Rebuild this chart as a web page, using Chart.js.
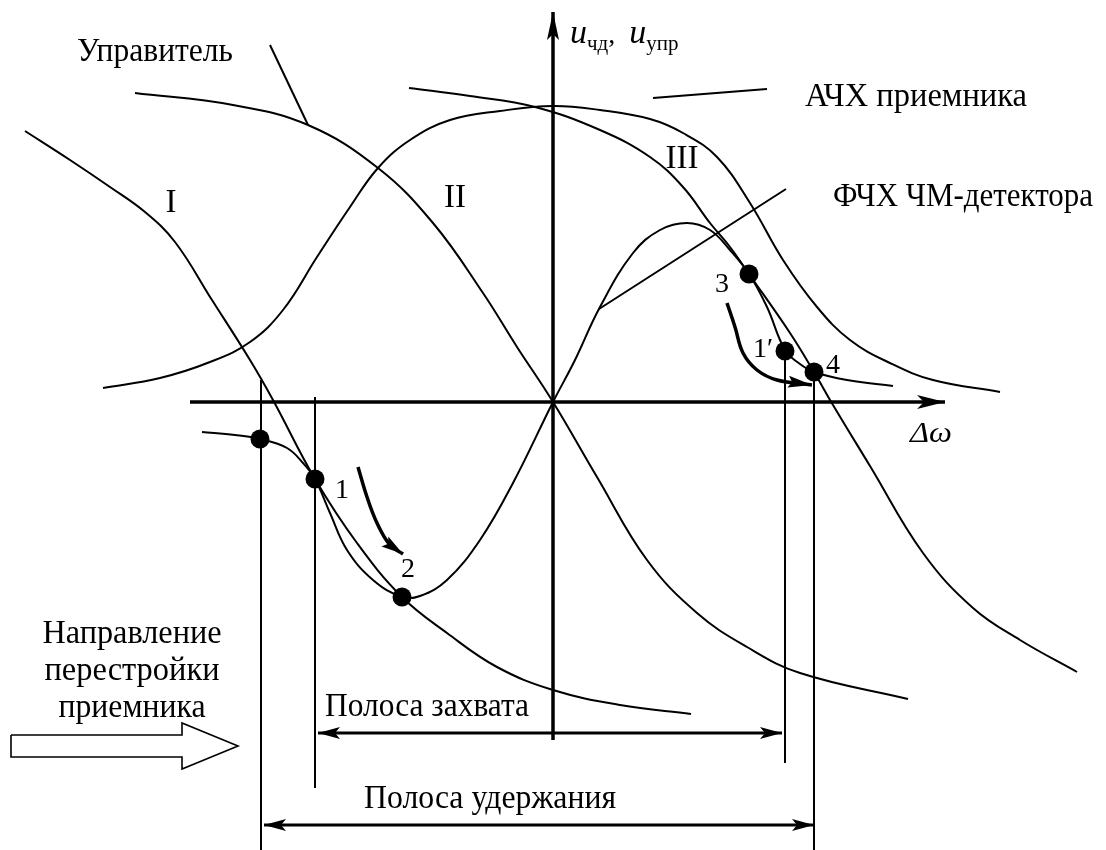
<!DOCTYPE html>
<html>
<head>
<meta charset="utf-8">
<script src="https://cdn.jsdelivr.net/npm/chart.js@4/dist/chart.umd.min.js"></script>
<style>
  html, body { margin: 0; padding: 0; background: #fff; overflow: hidden; }
  canvas { display: block; }
</style>
</head>
<body>
<canvas id="c" width="1106" height="850"></canvas>
<script>
// Frequency detuning Δω (horizontal) and voltage u (vertical), arbitrary units
const xRange = [-5.53, 5.53];
const yRange = [-4.48, 4.02];

// Tuner control characteristic at three receiver positions: I, II, III
const controlI = [
  [-5.28, 2.71], [-4.83, 2.42], [-4.43, 2.15], [-4.08, 1.90], [-3.78, 1.60],
  [-3.41, 1.02], [-3.03, 0.42], [-2.80, 0.02], [-2.38, -0.77], [-1.96, -1.41],
  [-1.51, -1.95], [-1.06, -2.31], [-0.56, -2.65], [0.00, -2.88], [0.67, -3.03],
  [1.38, -3.12]
];
const controlII = [
  [-4.18, 3.09], [-3.20, 2.97], [-2.45, 2.77], [-1.75, 2.34], [-1.20, 1.79],
  [-0.70, 1.09], [-0.36, 0.55], [0.00, 0.00], [0.44, -0.75], [0.94, -1.58],
  [1.44, -2.11], [1.94, -2.45], [2.47, -2.71], [3.55, -2.97]
];
const controlIII = [
  [-1.44, 3.14], [-0.83, 3.06], [-0.18, 2.95], [0.47, 2.72], [0.97, 2.45],
  [1.30, 2.15], [1.57, 1.79], [1.77, 1.55], [1.96, 1.28], [2.37, 0.69],
  [2.61, 0.30], [2.80, -0.03], [3.17, -0.64], [3.70, -1.51], [4.20, -2.06],
  [4.67, -2.38], [5.24, -2.70]
];

// Receiver amplitude-frequency response (АЧХ)
const receiverResponse = [
  [-4.50, 0.14], [-3.93, 0.24], [-3.43, 0.40], [-3.03, 0.60], [-2.70, 0.92],
  [-2.36, 1.45], [-2.03, 1.95], [-1.75, 2.34], [-1.43, 2.62], [-1.03, 2.82],
  [-0.53, 2.91], [0.00, 2.96], [0.47, 2.92], [0.97, 2.83], [1.30, 2.69],
  [1.64, 2.45], [1.97, 1.99], [2.30, 1.42], [2.64, 0.95], [2.97, 0.62],
  [3.37, 0.39], [3.80, 0.22], [4.47, 0.10]
];

// FM detector characteristic (ФЧХ ЧМ-детектора)
const detectorResponse = [
  [-3.51, -0.30], [-3.18, -0.33], [-2.93, -0.37], [-2.66, -0.46], [-2.50, -0.61],
  [-2.38, -0.77], [-2.23, -1.11], [-2.06, -1.48], [-1.80, -1.78], [-1.51, -1.95],
  [-1.33, -1.94], [-1.06, -1.78], [-0.73, -1.38], [-0.40, -0.81], [0.00, 0.00],
  [0.22, 0.42], [0.47, 0.95], [0.80, 1.49], [1.07, 1.72], [1.34, 1.79],
  [1.57, 1.72], [1.77, 1.52], [1.96, 1.28], [2.14, 0.95], [2.32, 0.52],
  [2.47, 0.38], [2.61, 0.30], [2.94, 0.22], [3.40, 0.16]
];

// Operating points on the characteristics
const operatingPoints = [
  [-2.93, -0.37], [-2.38, -0.77], [-1.51, -1.95],
  [1.96, 1.28], [2.32, 0.51], [2.61, 0.30]
];

// Band edges (Δω)
const holdBand = [-2.92, 2.61];
const captureBand = [-2.38, 2.32];

// Tuning-direction paths 1 → 2 and 3 → 4
const path12 = [[-1.95, -0.65], [-1.86, -0.95], [-1.76, -1.21], [-1.63, -1.43], [-1.50, -1.52]];
const path34 = [[1.74, 0.99], [1.82, 0.75], [1.90, 0.49], [2.04, 0.32], [2.24, 0.22], [2.59, 0.17]];

// ---- geometry of auxiliary marks (in axis units) ----
const axisX = [[-3.63, 0], [3.92, 0]];
const axisY = [[0, -3.38], [0, 3.90]];
const edgeLines = [
  [[holdBand[0], 0.22], [holdBand[0], -4.48]],
  [[captureBand[0], 0.05], [captureBand[0], -3.86]],
  [[captureBand[1], 0.51], [captureBand[1], -3.61]],
  [[holdBand[1], 0.30], [holdBand[1], -4.48]]
];
const captureArrow = [[captureBand[0] + 0.03, -3.31], [captureBand[1] - 0.03, -3.31]];
const holdArrow = [[holdBand[0] + 0.03, -4.23], [holdBand[1], -4.23]];
const leaders = [
  [[-2.83, 3.57], [-2.45, 2.77]],
  [[1.00, 3.04], [2.14, 3.13]],
  [[2.33, 2.13], [0.46, 0.93]]
];
const tuningArrow = [
  [-5.42, -3.33], [-3.71, -3.33], [-3.71, -3.21], [-3.15, -3.44],
  [-3.71, -3.67], [-3.71, -3.55], [-5.42, -3.55], [-5.42, -3.33]
];

const SERIF = '"Liberation Serif", "Times New Roman", serif';
const labels = [
  { text: 'Управитель', x: -3.98, y: 3.41, size: 34, width: 156 },
  { text: 'АЧХ приемника', x: 3.63, y: 2.96, size: 34, width: 222 },
  { text: 'ФЧХ ЧМ-детектора', x: 4.10, y: 1.96, size: 34, width: 260 },
  { text: 'I', x: -3.82, y: 1.90, size: 33 },
  { text: 'II', x: -0.98, y: 1.95, size: 33 },
  { text: 'III', x: 1.29, y: 2.34, size: 33 },
  { text: '1', x: -2.11, y: -0.96, size: 28 },
  { text: '2', x: -1.45, y: -1.75, size: 28 },
  { text: '3', x: 1.69, y: 1.10, size: 28 },
  { text: '1′', x: 2.00, y: 0.45, size: 28, align: 'left' },
  { text: '4', x: 2.80, y: 0.29, size: 28 },
  { text: 'Δω', x: 3.78, y: -0.40, size: 30, italic: true, width: 42 },
  { text: 'Полоса захвата', x: -1.26, y: -3.14, size: 34, width: 204 },
  { text: 'Полоса удержания', x: -0.63, y: -4.06, size: 34, width: 252 },
  { text: 'Направление', x: -4.21, y: -2.41, size: 34, width: 179 },
  { text: 'перестройки', x: -4.21, y: -2.78, size: 34, width: 175 },
  { text: 'приемника', x: -4.21, y: -3.15, size: 34, width: 147 }
];
const axisLabelAt = [0.17, 3.59];

const xy = arr => arr.map(([x, y]) => ({ x, y }));

function curve(data, extra) {
  return Object.assign({
    data: xy(data), showLine: true, borderColor: '#000', borderWidth: 2,
    pointRadius: 0, tension: 0.4, fill: false
  }, extra || {});
}
function segment(data, extra) {
  return curve(data, Object.assign({ tension: 0 }, extra || {}));
}

const datasets = [
  {
    data: xy(operatingPoints), showLine: false, pointRadius: 9.5,
    pointBackgroundColor: '#000', pointBorderWidth: 0, pointStyle: 'circle'
  },
  curve(path12, { borderWidth: 3.5, arrowEnd: { len: 22, half: 6, notch: 4 } }),
  curve(path34, { borderWidth: 3.5, arrowEnd: { len: 24, half: 6, notch: 4 } }),
  curve(controlI),
  curve(controlII),
  curve(controlIII),
  curve(receiverResponse),
  curve(detectorResponse),
  segment(axisX, { borderWidth: 3.5, arrowEnd: { len: 28, half: 7, notch: 7 } }),
  segment(axisY, { borderWidth: 3.5, arrowEnd: { len: 28, half: 6, notch: 6 } }),
  segment(captureArrow, { borderWidth: 3, arrowEnd: { len: 22, half: 6, notch: 5 }, arrowStart: { len: 22, half: 6, notch: 5 } }),
  segment(holdArrow, { borderWidth: 3, arrowEnd: { len: 22, half: 6, notch: 5 }, arrowStart: { len: 22, half: 6, notch: 5 } }),
  segment(tuningArrow, { borderWidth: 1.6, borderJoinStyle: 'miter' })
];
edgeLines.forEach(l => datasets.push(segment(l, { borderWidth: 2 })));
leaders.forEach(l => datasets.push(segment(l, { borderWidth: 2 })));

function head(ctx, tip, from, spec) {
  const dx = tip.x - from.x, dy = tip.y - from.y;
  const d = Math.hypot(dx, dy) || 1;
  const ux = dx / d, uy = dy / d, nx = -uy, ny = ux;
  const bx = tip.x - ux * spec.len, by = tip.y - uy * spec.len;
  ctx.beginPath();
  ctx.moveTo(tip.x, tip.y);
  ctx.lineTo(bx + nx * spec.half, by + ny * spec.half);
  ctx.lineTo(bx + ux * spec.notch, by + uy * spec.notch);
  ctx.lineTo(bx - nx * spec.half, by - ny * spec.half);
  ctx.closePath();
  ctx.fill();
}

const arrowheads = {
  id: 'arrowheads',
  afterDatasetsDraw(chart) {
    const ctx = chart.ctx;
    ctx.save();
    ctx.fillStyle = '#000';
    chart.data.datasets.forEach((ds, i) => {
      const pts = chart.getDatasetMeta(i).data;
      if (ds.arrowEnd) head(ctx, pts[pts.length - 1], pts[pts.length - 2], ds.arrowEnd);
      if (ds.arrowStart) head(ctx, pts[0], pts[1], ds.arrowStart);
    });
    ctx.restore();
  }
};

const annotations = {
  id: 'annotations',
  afterDraw(chart) {
    const ctx = chart.ctx, sx = chart.scales.x, sy = chart.scales.y;
    ctx.save();
    ctx.fillStyle = '#000';
    ctx.textBaseline = 'alphabetic';
    labels.forEach(l => {
      ctx.font = (l.italic ? 'italic ' : '') + l.size + 'px ' + SERIF;
      const px = sx.getPixelForValue(l.x), py = sy.getPixelForValue(l.y);
      const w = ctx.measureText(l.text).width;
      const k = l.width ? l.width / w : 1;
      const drawnW = w * k;
      let left = px - drawnW / 2;
      if (l.align === 'left') left = px;
      ctx.save();
      ctx.translate(left, py);
      ctx.scale(k, 1);
      ctx.textAlign = 'left';
      ctx.fillText(l.text, 0, 0);
      ctx.restore();
    });
    // vertical axis title: u_чд, u_упр
    let x = sx.getPixelForValue(axisLabelAt[0]);
    const base = sy.getPixelForValue(axisLabelAt[1]);
    ctx.textAlign = 'left';
    const parts = [
      { t: 'u', f: 'italic 34px ' + SERIF, dy: 0 },
      { t: 'чд', f: '21px ' + SERIF, dy: 7 },
      { t: ',  ', f: '28px ' + SERIF, dy: 0 },
      { t: 'u', f: 'italic 34px ' + SERIF, dy: 0 },
      { t: 'упр', f: '21px ' + SERIF, dy: 7 }
    ];
    parts.forEach(p => {
      ctx.font = p.f;
      ctx.fillText(p.t, x, base + p.dy);
      x += ctx.measureText(p.t).width;
    });
    ctx.restore();
  }
};

new Chart(document.getElementById('c'), {
  type: 'scatter',
  data: { datasets },
  options: {
    responsive: false,
    devicePixelRatio: 1,
    animation: false,
    events: [],
    layout: { padding: 0, autoPadding: false },
    plugins: { legend: { display: false }, tooltip: { enabled: false } },
    scales: {
      x: { type: 'linear', min: xRange[0], max: xRange[1], display: false },
      y: { type: 'linear', min: yRange[0], max: yRange[1], display: false }
    }
  },
  plugins: [arrowheads, annotations]
});
</script>
</body>
</html>
